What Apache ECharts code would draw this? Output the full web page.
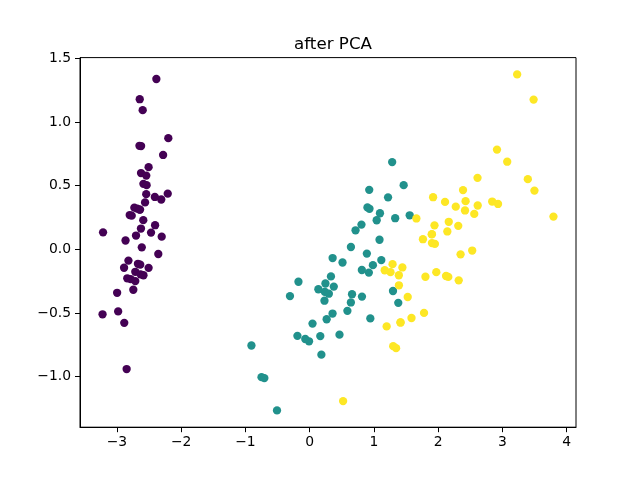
<!DOCTYPE html>
<html>
<head>
<meta charset="utf-8">
<script src="https://cdn.jsdelivr.net/npm/echarts@6/dist/echarts.min.js"></script>
<style>html,body{margin:0;padding:0;background:#fff}#c{width:640px;height:480px}</style>
</head>
<body>
<div id="c"></div>
<script>
const titleText = "after PCA";
const xTicks = [-3, -2, -1, 0, 1, 2, 3, 4];
const yTicks = [-1.0, -0.5, 0.0, 0.5, 1.0, 1.5];
const classColors = ["#440154", "#21918c", "#fde725"];

const setosa = [[-2.684,0.319],[-2.714,-0.177],[-2.889,-0.145],[-2.745,-0.318],[-2.729,0.327],[-2.281,0.741],[-2.821,-0.089],[-2.626,0.163],[-2.886,-0.578],[-2.673,-0.114],[-2.507,0.645],[-2.613,0.015],[-2.786,-0.235],[-3.224,-0.511],[-2.645,1.179],[-2.386,1.338],[-2.624,0.811],[-2.648,0.312],[-2.200,0.873],[-2.588,0.514],[-2.310,0.391],[-2.544,0.433],[-3.216,0.133],[-2.303,0.099],[-2.356,-0.037],[-2.507,-0.146],[-2.469,0.131],[-2.562,0.368],[-2.640,0.312],[-2.632,-0.197],[-2.587,-0.204],[-2.410,0.411],[-2.649,0.813],[-2.599,1.093],[-2.637,-0.121],[-2.866,0.069],[-2.625,0.599],[-2.801,0.269],[-2.981,-0.488],[-2.590,0.229],[-2.770,0.264],[-2.849,-0.941],[-2.997,-0.342],[-2.406,0.189],[-2.209,0.437],[-2.714,-0.250],[-2.538,0.504],[-2.839,-0.228],[-2.543,0.579],[-2.703,0.108]];
const versicolor = [[1.285,0.685],[0.932,0.318],[1.464,0.504],[0.183,-0.828],[1.088,0.075],[0.642,-0.418],[1.095,0.283],[-0.749,-1.005],[1.044,0.228],[-0.009,-0.723],[-0.508,-1.266],[0.512,-0.104],[0.265,-0.550],[0.985,-0.125],[-0.174,-0.255],[0.928,0.467],[0.660,-0.353],[0.236,-0.334],[0.945,-0.543],[0.045,-0.584],[1.116,-0.085],[0.358,-0.069],[1.298,-0.328],[0.922,-0.183],[0.715,0.149],[0.900,0.329],[1.332,0.244],[1.558,0.267],[0.813,-0.163],[-0.306,-0.368],[-0.068,-0.705],[-0.190,-0.680],[0.136,-0.314],[1.380,-0.421],[0.588,-0.484],[0.807,0.194],[1.221,0.408],[0.815,-0.372],[0.246,-0.269],[0.166,-0.682],[0.465,-0.671],[0.891,-0.034],[0.231,-0.404],[-0.705,-1.012],[0.357,-0.505],[0.332,-0.213],[0.376,-0.293],[0.643,0.018],[-0.906,-0.756],[0.299,-0.349]];
const virginica = [[2.531,-0.010],[1.415,-0.575],[2.617,0.344],[1.972,-0.180],[2.350,-0.040],[3.397,0.551],[0.521,-1.193],[2.933,0.356],[2.321,-0.244],[2.917,0.783],[1.662,0.242],[1.803,-0.216],[2.166,0.216],[1.346,-0.777],[1.586,-0.540],[1.904,0.119],[1.950,0.042],[3.487,1.176],[3.796,0.257],[1.301,-0.761],[2.428,0.378],[1.199,-0.606],[3.500,0.461],[1.389,-0.204],[2.275,0.335],[2.614,0.561],[1.259,-0.180],[1.291,-0.117],[2.124,-0.210],[2.388,0.465],[2.842,0.375],[3.231,1.374],[2.159,-0.217],[1.444,-0.143],[1.781,-0.500],[3.076,0.688],[2.144,0.140],[1.905,0.049],[1.169,-0.165],[2.108,0.372],[2.314,0.184],[1.922,0.409],[1.415,-0.575],[2.563,0.278],[2.419,0.305],[1.944,0.188],[1.527,-0.375],[1.764,0.079],[1.901,0.117],[1.390,-0.283]];

const groups = [setosa, versicolor, virginica];
const all = groups.flat();
const xs = all.map(p => p[0]), ys = all.map(p => p[1]);
const xMin0 = Math.min(...xs), xMax0 = Math.max(...xs);
const yMin0 = Math.min(...ys), yMax0 = Math.max(...ys);
const xPad = (xMax0 - xMin0) * 0.05, yPad = (yMax0 - yMin0) * 0.05;

const fmt = v => String(v).replace('-', '\u2212');
const fmtY = v => Number(v).toFixed(1).replace('-', '\u2212');
const font = 'DejaVu Sans';

const chart = echarts.init(document.getElementById('c'), null, {renderer: 'canvas'});
chart.setOption({
  animation: false,
  backgroundColor: '#fff',
  title: {
    text: titleText, left: 328, top: 31, textAlign: 'center',
    textStyle: {fontFamily: font, fontSize: 16.7, fontWeight: 'normal', color: '#000'}
  },
  grid: {left: 80, right: 64, top: 57.6, bottom: 52.8, show: true, borderColor: '#000', borderWidth: 1, containLabel: false},
  xAxis: {
    type: 'value', min: xMin0 - xPad, max: xMax0 + xPad,
    splitLine: {show: false},
    axisLine: {show: true, onZero: false, lineStyle: {color: '#000', width: 1}},
    axisTick: {show: true, inside: false, length: 5, customValues: xTicks, lineStyle: {color: '#000', width: 1}},
    axisLabel: {customValues: xTicks, formatter: fmt, margin: 8, color: '#000', fontFamily: font, fontSize: 13.9}
  },
  yAxis: {
    type: 'value', min: yMin0 - yPad, max: yMax0 + yPad,
    splitLine: {show: false},
    axisLine: {show: true, onZero: false, lineStyle: {color: '#000', width: 1}},
    axisTick: {show: true, inside: false, length: 5, customValues: yTicks, lineStyle: {color: '#000', width: 1}},
    axisLabel: {customValues: yTicks, formatter: fmtY, margin: 9, color: '#000', fontFamily: font, fontSize: 13.9}
  },
  series: groups.map((g, i) => ({
    type: 'scatter', data: g, symbol: 'circle', symbolSize: 8.3,
    itemStyle: {color: classColors[i], opacity: 1},
    emphasis: {disabled: true}
  }))
});
</script>
</body>
</html>
